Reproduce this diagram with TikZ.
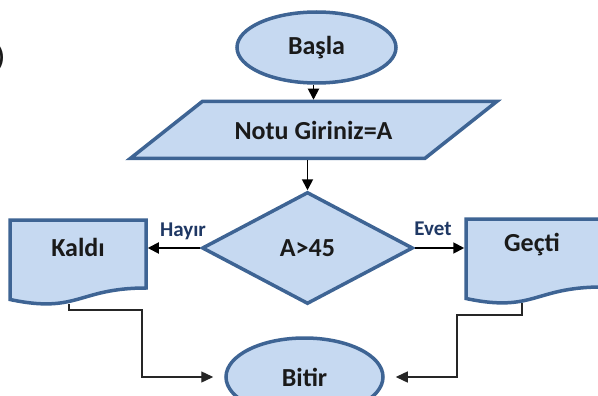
\documentclass[tikz,border=0pt]{standalone}
\usepackage{fontspec}
\setmainfont{Carlito}
\usetikzlibrary{shapes.geometric,arrows.meta,calc}
\definecolor{shapefill}{HTML}{C6D9F1}
\definecolor{shapeedge}{HTML}{3E6494}
\definecolor{labelnavy}{HTML}{1F3864}
\definecolor{textdark}{HTML}{1A1A1A}
\tikzset{
  x=1pt, y=-1pt,
  shp/.style={fill=shapefill, draw=shapeedge, line width=3.5pt, line join=miter},
  term/.style={shp, ellipse, inner sep=0pt, outer sep=1.75pt},
  decide/.style={shp, diamond, inner sep=0pt, outer sep=1.75pt},
  ghost/.style={rectangle, draw=none, inner sep=0pt, outer sep=1.75pt},
  maintext/.style={font=\fontsize{26}{28}\selectfont\bfseries, text=textdark, inner sep=0pt},
  lbl/.style={font=\fontsize{21}{23}\selectfont\bfseries, text=labelnavy, inner sep=0pt},
  arr/.style={draw=black, line width=1.8pt, -{Triangle[length=11pt,width=11pt]}},
  conn/.style={draw=black!85, line width=1.4pt, -{Triangle[length=12pt,width=11pt]}, shorten >=11pt},
}
\begin{document}
\begin{tikzpicture}
\useasboundingbox (0,0) rectangle (598,396);

% partial glyph at the left edge
\node[maintext, anchor=east] (paren) at (5,58) {)};

% start
\node[term, minimum width=159pt, minimum height=71pt, maintext] (basla) at (316.5,47.5) {Başla};

% input parallelogram
\node[ghost, minimum width=291pt, minimum height=57pt] (giris) at (313.5,130) {};
\draw[shp] ($(giris.north west)+(36,1.75)$) -- ($(giris.north east)+(36,1.75)$)
  -- ($(giris.south east)+(-36,-1.75)$) -- ($(giris.south west)+(-36,-1.75)$) -- cycle;
\node[maintext] (girisT) at (giris.center) {Notu Giriniz=A};

% decision
\node[decide, minimum width=211pt, minimum height=112pt, maintext] (karar) at (307.5,248) {A>45};

% documents
\node[ghost, minimum width=136pt, minimum height=85pt] (kaldi) at (78,262.5) {};
\draw[shp] ($(kaldi.north west)+(1.75,1.75)$) -- ($(kaldi.north east)+(-1.75,1.75)$)
  -- ($(kaldi.north east)+(-1.75,69.75)$)
  .. controls ($(kaldi.north)+(0,69.75)$) and ($(kaldi.north)+(0,95.75)$)
  .. ($(kaldi.north west)+(1.75,81.25)$) -- cycle;
\node[maintext] (kaldiT) at (78,247) {Kaldı};

\node[ghost, minimum width=136pt, minimum height=85pt] (gecti) at (534,261.5) {};
\draw[shp] ($(gecti.north west)+(1.75,1.75)$) -- ($(gecti.north east)+(-1.75,1.75)$)
  -- ($(gecti.north east)+(-1.75,69.75)$)
  .. controls ($(gecti.north)+(0,69.75)$) and ($(gecti.north)+(0,95.75)$)
  .. ($(gecti.north west)+(1.75,81.25)$) -- cycle;
\node[maintext] (gectiT) at (532,245) {Geçti};

% end
\node[term, minimum width=157pt, minimum height=78pt, maintext] (bitir) at (304.5,377) {Bitir};

% connectors
\draw[arr] (giris.north |- basla.south) -- (giris.north);
\draw[arr] (karar.north |- giris.south) -- (karar.north);
\draw[arr] (karar.west) -- (karar.west -| kaldi.east);
\draw[arr] (karar.east) -- (karar.east -| gecti.west);

\node[lbl] (hayir) at (183,231) {Hayır};
\node[lbl] (evet) at (433,229) {Evet};

\coordinate (kaldiOut) at (69,304);
\coordinate (gectiOut) at (522,303);
\draw[conn] (kaldiOut) -- ++(0,6) -- ++(73,0) |- (bitir.west);
\draw[conn] (gectiOut) -- ++(0,12) -- ++(-65,0) |- (bitir.east);
\end{tikzpicture}
\end{document}
